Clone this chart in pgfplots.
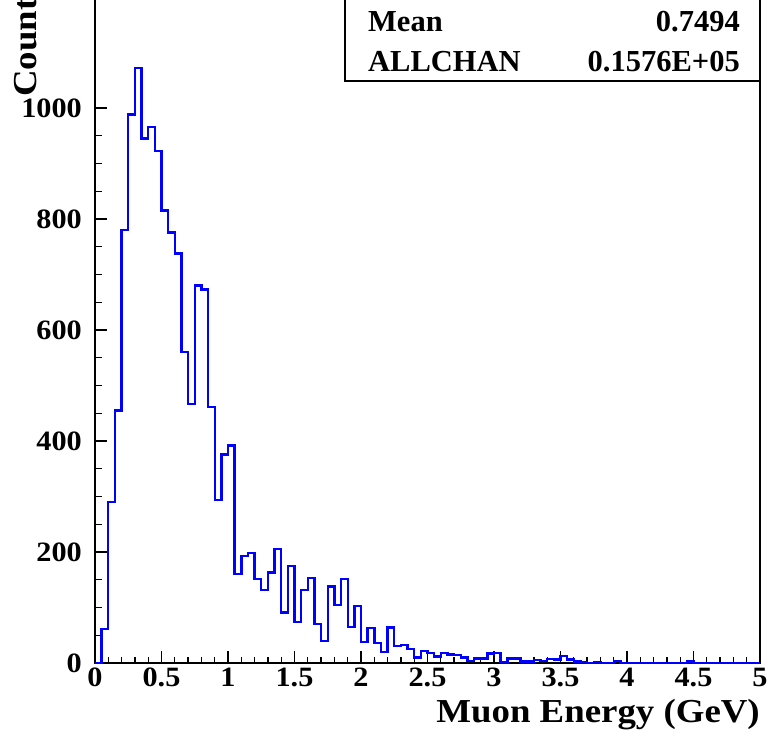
\documentclass[border=0pt]{standalone}
\usepackage{fontspec}
\setmainfont{Liberation Serif}
\newfontfamily\tickfont[FakeStretch=1.08]{Liberation Serif}
\newfontfamily\labelfont[FakeStretch=1.1]{Liberation Serif}
\usepackage{pgfplots}
\usepackage{pgfplotstable}
\pgfplotsset{compat=1.18}

\pgfplotstableread{
x y
0.00 0
0.05 61
0.10 290
0.15 455
0.20 780
0.25 988
0.30 1072
0.35 945
0.40 966
0.45 922
0.50 815
0.55 776
0.60 738
0.65 560
0.70 467
0.75 680
0.80 673
0.85 461
0.90 294
0.95 376
1.00 392
1.05 160
1.10 193
1.15 198
1.20 151
1.25 131
1.30 163
1.35 205
1.40 91
1.45 175
1.50 74
1.55 131
1.60 153
1.65 70
1.70 40
1.75 138
1.80 104
1.85 151
1.90 65
1.95 103
2.00 38
2.05 63
2.10 36
2.15 20
2.20 64
2.25 31
2.30 32
2.35 25
2.40 10
2.45 22
2.50 18
2.55 12
2.60 18
2.65 15
2.70 14
2.75 10
2.80 4
2.85 8
2.90 8
2.95 17
3.00 18
3.05 2
3.10 8
3.15 8
3.20 3
3.25 3
3.30 5
3.35 4
3.40 7
3.45 6
3.50 13
3.55 6
3.60 3
3.65 2
3.70 0
3.75 2
3.80 0
3.85 0
3.90 4
3.95 0
4.00 0
4.05 0
4.10 0
4.15 0
4.20 0
4.25 0
4.30 0
4.35 0
4.40 0
4.45 3
4.50 0
4.55 0
4.60 0
4.65 0
4.70 0
4.75 0
4.80 0
4.85 0
4.90 0
4.95 0
5.00 0
}\histdata

\begin{document}
\begin{tikzpicture}
\useasboundingbox (-95pt,-73pt) rectangle (675pt,663pt);
\clip (-95pt,-73pt) rectangle (675pt,663pt);
\begin{axis}[
  at={(0pt,0pt)}, anchor=south west,
  scale only axis, width=665pt, height=666pt,
  xmin=0, xmax=5, ymin=0, ymax=1200,
  axis line style={line width=2.5pt, black},
  tick align=inside, xtick pos=bottom, ytick pos=left,
  major tick length=12pt, minor tick length=6.5pt,
  every tick/.style={line width=1.3pt, black},
  xtick={0,0.5,1,1.5,2,2.5,3,3.5,4,4.5,5},
  xticklabels={0,0.5,1,1.5,2,2.5,3,3.5,4,4.5,5},
  ytick={0,200,400,600,800,1000},
  yticklabels={0,200,400,600,800,1000},
  minor x tick num=4, minor y tick num=3,
  xticklabel style={font=\tickfont\fontsize{28}{30}\selectfont\bfseries, inner sep=0pt, anchor=north, yshift=-5pt},
  yticklabel style={font=\tickfont\fontsize{28}{30}\selectfont\bfseries, inner sep=0pt, anchor=east, xshift=-13pt},
  xlabel={Muon Energy (GeV)},
  xlabel style={font=\labelfont\fontsize{33.5}{36}\selectfont\bfseries, inner sep=0pt, at={(axis description cs:1,0)}, anchor=base east, yshift=-59pt},
  clip=false,
]
\addplot[const plot mark left, blue, line width=2.4pt, line join=miter] table[x=x, y=y] {\histdata};
\end{axis}
\node[rotate=90, anchor=base west, inner sep=0pt, font=\labelfont\fontsize{33.5}{36}\selectfont\bfseries] at (-58pt,566pt) {Counts};
\draw[line width=2pt, fill=white] (250pt,582pt) rectangle (665pt,680pt);
\node[anchor=base west, inner sep=0pt, font=\fontsize{30.5}{32}\selectfont\bfseries] at (273pt,631pt) {Mean};
\node[anchor=base east, inner sep=0pt, font=\fontsize{30.5}{32}\selectfont\bfseries] at (645pt,631pt) {0.7494};
\node[anchor=base west, inner sep=0pt, font=\fontsize{30.5}{32}\selectfont\bfseries] at (273pt,591pt) {ALLCHAN};
\node[anchor=base east, inner sep=0pt, font=\fontsize{30.5}{32}\selectfont\bfseries] at (645pt,591pt) {0.1576E+05};
\end{tikzpicture}
\end{document}
